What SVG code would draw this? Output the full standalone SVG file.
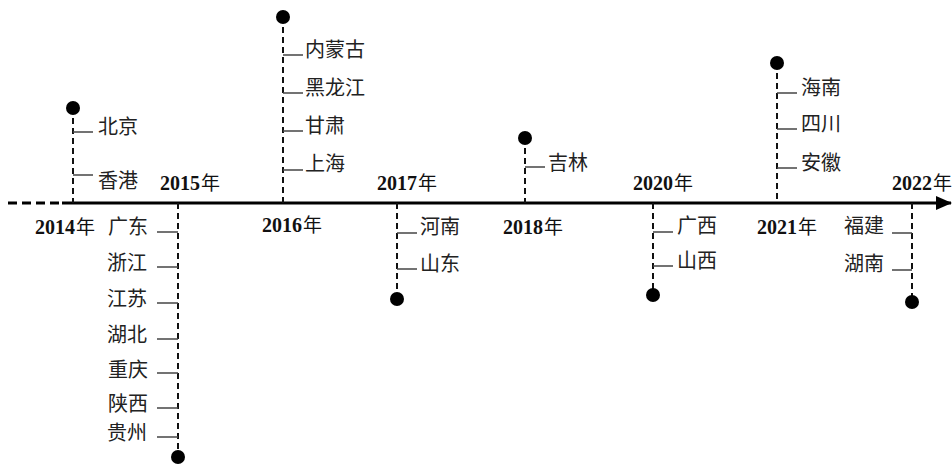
<svg xmlns="http://www.w3.org/2000/svg" width="952" height="468" viewBox="0 0 952 468">
<style>
.stem{stroke:#111;stroke-width:2;stroke-dasharray:6,4;fill:none}
.tick{stroke:#444;stroke-width:1.5}
.dot{fill:#000}
.lab{font-family:"Liberation Serif","Noto Sans CJK SC",serif;font-size:20px;fill:#222}
.yr{font-family:"Liberation Serif","Noto Sans CJK SC",serif;font-size:20px;font-weight:bold;fill:#111}
.yr tspan{font-weight:normal;font-size:19px}
</style>
<defs>
<marker id="arr" markerWidth="16" markerHeight="14" refX="15" refY="7" orient="auto" markerUnits="userSpaceOnUse">
<path d="M0,0 L16,7 L0,14 Z" fill="#000"/>
</marker>
</defs>
<rect width="952" height="468" fill="#fff"/>
<g id="connectors">
<line x1="8" y1="203" x2="62" y2="203" stroke="#000" stroke-width="3" stroke-dasharray="9,5"/>
<line x1="62" y1="203" x2="951" y2="203" stroke="#000" stroke-width="3" marker-end="url(#arr)"/>
</g>
<g id="y2014">
<line class="stem" x1="73" y1="108" x2="73" y2="203"/>
<circle class="dot" cx="73" cy="108" r="7"/>
<line class="tick" x1="73" y1="132" x2="93" y2="132"/>
<line class="tick" x1="73" y1="175" x2="93" y2="175"/>
<text class="lab" x="98" y="134">北京</text>
<text class="lab" x="98" y="188">香港</text>
<text class="yr" x="35" y="234">2014<tspan dx="1">年</tspan></text>
</g>
<g id="y2015">
<line class="stem" x1="178" y1="203" x2="178" y2="457"/>
<circle class="dot" cx="178" cy="457" r="7"/>
<line class="tick" x1="157" y1="232" x2="178" y2="232"/>
<line class="tick" x1="157" y1="267" x2="178" y2="267"/>
<line class="tick" x1="157" y1="303" x2="178" y2="303"/>
<line class="tick" x1="157" y1="339" x2="178" y2="339"/>
<line class="tick" x1="157" y1="373" x2="178" y2="373"/>
<line class="tick" x1="157" y1="408" x2="178" y2="408"/>
<line class="tick" x1="157" y1="437" x2="178" y2="437"/>
<text class="lab" x="148" y="234" text-anchor="end">广东</text>
<text class="lab" x="147" y="270" text-anchor="end">浙江</text>
<text class="lab" x="147" y="306" text-anchor="end">江苏</text>
<text class="lab" x="147" y="342" text-anchor="end">湖北</text>
<text class="lab" x="148" y="377" text-anchor="end">重庆</text>
<text class="lab" x="148" y="411" text-anchor="end">陕西</text>
<text class="lab" x="147" y="440" text-anchor="end">贵州</text>
<text class="yr" x="160" y="190">2015<tspan dx="1">年</tspan></text>
</g>
<g id="y2016">
<line class="stem" x1="283" y1="17" x2="283" y2="203"/>
<circle class="dot" cx="283" cy="17" r="7"/>
<line class="tick" x1="283" y1="55" x2="303" y2="55"/>
<line class="tick" x1="283" y1="93" x2="303" y2="93"/>
<line class="tick" x1="283" y1="131" x2="303" y2="131"/>
<line class="tick" x1="283" y1="170" x2="303" y2="170"/>
<text class="lab" x="305" y="57">内蒙古</text>
<text class="lab" x="305" y="95">黑龙江</text>
<text class="lab" x="305" y="133">甘肃</text>
<text class="lab" x="305" y="171">上海</text>
<text class="yr" x="262" y="232">2016<tspan dx="1">年</tspan></text>
</g>
<g id="y2017">
<line class="stem" x1="397" y1="203" x2="397" y2="299"/>
<circle class="dot" cx="397" cy="299" r="7"/>
<line class="tick" x1="397" y1="233" x2="417" y2="233"/>
<line class="tick" x1="397" y1="269" x2="417" y2="269"/>
<text class="lab" x="420" y="234">河南</text>
<text class="lab" x="420" y="271">山东</text>
<text class="yr" x="377" y="190">2017<tspan dx="1">年</tspan></text>
</g>
<g id="y2018">
<line class="stem" x1="525" y1="138" x2="525" y2="203"/>
<circle class="dot" cx="525" cy="138" r="7"/>
<line class="tick" x1="525" y1="167" x2="545" y2="167"/>
<text class="lab" x="548" y="170">吉林</text>
<text class="yr" x="503" y="234">2018<tspan dx="1">年</tspan></text>
</g>
<g id="y2020">
<line class="stem" x1="653" y1="203" x2="653" y2="295"/>
<circle class="dot" cx="653" cy="295" r="7"/>
<line class="tick" x1="653" y1="232" x2="673" y2="232"/>
<line class="tick" x1="653" y1="266" x2="673" y2="266"/>
<text class="lab" x="677" y="233">广西</text>
<text class="lab" x="677" y="268">山西</text>
<text class="yr" x="633" y="190">2020<tspan dx="1">年</tspan></text>
</g>
<g id="y2021">
<line class="stem" x1="777" y1="63" x2="777" y2="203"/>
<circle class="dot" cx="777" cy="63" r="7"/>
<line class="tick" x1="777" y1="93" x2="797" y2="93"/>
<line class="tick" x1="777" y1="129" x2="797" y2="129"/>
<line class="tick" x1="777" y1="168" x2="797" y2="168"/>
<text class="lab" x="801" y="95">海南</text>
<text class="lab" x="801" y="131">四川</text>
<text class="lab" x="801" y="170">安徽</text>
<text class="yr" x="757" y="234">2021<tspan dx="1">年</tspan></text>
</g>
<g id="y2022">
<line class="stem" x1="912" y1="203" x2="912" y2="302"/>
<circle class="dot" cx="912" cy="302" r="7"/>
<line class="tick" x1="892" y1="233" x2="912" y2="233"/>
<line class="tick" x1="892" y1="270" x2="912" y2="270"/>
<text class="lab" x="884" y="233" text-anchor="end">福建</text>
<text class="lab" x="884" y="271" text-anchor="end">湖南</text>
<text class="yr" x="892" y="190">2022<tspan dx="1">年</tspan></text>
</g>
</svg>
